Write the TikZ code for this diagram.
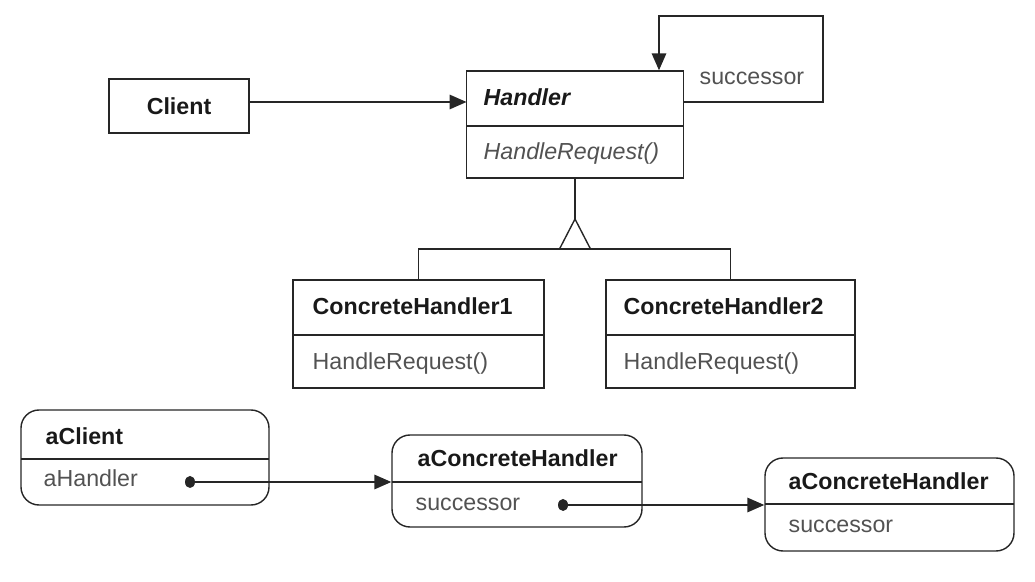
\documentclass[tikz,border=0pt]{standalone}
\usepackage{fontspec}
\setmainfont{Liberation Sans}
\usetikzlibrary{arrows.meta,shapes.geometric}
\newcommand{\px}{0.025cm}

\begin{document}
\fontsize{16.5}{20}\selectfont
\begin{tikzpicture}
   [x=\px, y=-\px, line width=1pt, color=black!85,
    cls/.style n args={2}{draw, minimum width=#1*\px, minimum height=#2*\px, inner sep=0pt},
    obj/.style n args={2}{cls={#1}{#2}, rounded corners=4.5mm},
    title/.style={font=\bfseries, text=black!90, anchor=base west, inner sep=0pt},
    member/.style={text=black!68, anchor=base west, inner sep=0pt},
    assoc/.style={-{Triangle[length=4.2mm,width=3.6mm]}},
    refdot/.style={ellipse, fill, inner sep=0pt, minimum width=10*\px, minimum height=12*\px}]
   \useasboundingbox (0,0) rectangle (1035,582);

   % class structure
   \node[cls={140}{54}, font=\bfseries, text=black!90] (client) at (179,106) {Client};

   \node[cls={217}{107}] (handler) at (575,124.5) {};
   \draw (466.5,126) -- (683.5,126);
   \node[title, font=\bfseries\itshape] (handlername) at (483,106) {Handler};
   \node[member, font=\itshape] (handlerop) at (483,160) {HandleRequest()};

   \coordinate (hl) at (466.5,102);
   \draw[assoc] (client.east |- hl) -- (hl);

   \coordinate (loopr) at (823,16);
   \coordinate (loopl) at (659,16);
   \draw[assoc] (handler.east |- hl) -| (loopr) -- (loopl) -- (loopl |- handler.north);
   \node[member] (succlabel) at (699,85) {successor};

   \node[cls={251}{108}] (ch1) at (418.5,334) {};
   \draw (293,335) -- (544,335);
   \node[title] (ch1name) at (312,315) {ConcreteHandler1};
   \node[member] (ch1op) at (312,370) {HandleRequest()};

   \node[cls={249}{108}] (ch2) at (730.5,334) {};
   \draw (606,335) -- (855,335);
   \node[title] (ch2name) at (623,315) {ConcreteHandler2};
   \node[member] (ch2op) at (623,370) {HandleRequest()};

   % inheritance
   \coordinate (inhtip) at (575,219);
   \coordinate (inhbase) at (575,249);
   \draw (handler.south) -- (inhtip);
   \draw (inhtip) -- ++(-15.5,30) -- ++(31,0) -- cycle;
   \draw (ch1.north) |- (inhbase) -| (ch2.north);

   % object structure
   \node[obj={248}{95}] (aclient) at (145,457.5) {};
   \draw (21,459) -- (269,459);
   \node[title] (aclientname) at (45,445) {aClient};
   \node[member] (aclientref) at (43,487) {aHandler};
   \node[refdot] (ref1) at (190,482) {};

   \node[obj={250}{92}] (ach1) at (517,481) {};
   \draw (392,482) -- (642,482);
   \node[title] (ach1name) at (417,467) {aConcreteHandler};
   \node[member] (ach1ref) at (415,511) {successor};
   \node[refdot] (ref2) at (563,505) {};

   \node[obj={249}{93}] (ach2) at (889.5,504.5) {};
   \draw (765,504) -- (1014,504);
   \node[title] (ach2name) at (788,490) {aConcreteHandler};
   \node[member] (ach2ref) at (788,533) {successor};

   \draw[assoc] (ref1.center) -- (ach1.west |- ref1);
   \draw[assoc] (ref2.center) -- (ach2.west |- ref2);
\end{tikzpicture}
\end{document}
